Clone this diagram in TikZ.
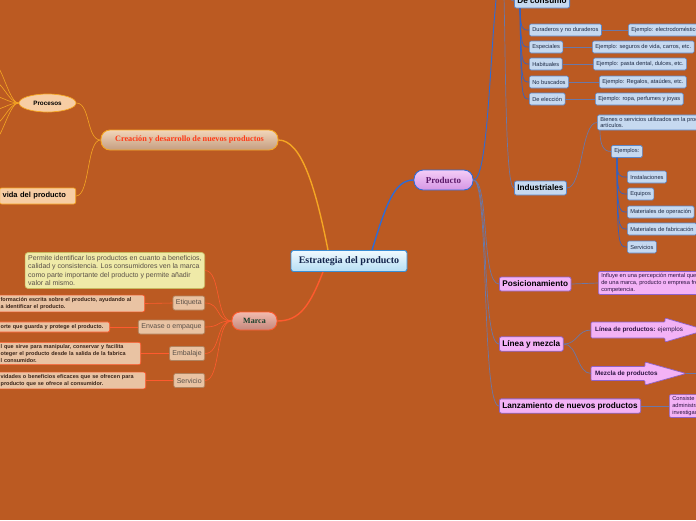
\documentclass[tikz,border=0pt]{standalone}
\usepackage{fontspec}
\setmainfont{Liberation Serif}
\setsansfont{Liberation Sans}
\usetikzlibrary{shapes.geometric}

\definecolor{fondo}{HTML}{BB5A22}
\definecolor{azulraiz}{HTML}{3A8ED4}
\definecolor{celesteA}{HTML}{F0FAFF}
\definecolor{celesteB}{HTML}{B6DEF4}
\definecolor{tinta}{HTML}{13254C}
\definecolor{azulprod}{HTML}{2E6BD6}
\definecolor{lilaA}{HTML}{F4CCF7}
\definecolor{lilaB}{HTML}{D596E4}
\definecolor{morado}{HTML}{5B1869}
\definecolor{naranja}{HTML}{F5A623}
\definecolor{beigeA}{HTML}{F2D6BA}
\definecolor{beigeB}{HTML}{C49D80}
\definecolor{rojo}{HTML}{FF3A17}
\definecolor{rojizo}{HTML}{FF5A2E}
\definecolor{salmonA}{HTML}{F2BBAE}
\definecolor{salmonB}{HTML}{C4877C}
\definecolor{verde}{HTML}{173F2A}
\definecolor{durazno}{HTML}{F7CDA4}
\definecolor{azulcaja}{HTML}{5B87C9}
\definecolor{celestecaja}{HTML}{C6D9F0}
\definecolor{tintacaja}{HTML}{1D2A45}
\definecolor{violeta}{HTML}{8F62C9}
\definecolor{rosado}{HTML}{F3B2F6}
\definecolor{tintarosa}{HTML}{2B1440}
\definecolor{notaborde}{HTML}{C9BA62}
\definecolor{notafondo}{HTML}{EFEAA8}
\definecolor{gristexto}{HTML}{5A5048}
\definecolor{hojaborde}{HTML}{B0835F}
\definecolor{hojafondo}{HTML}{E9C3A3}
\definecolor{cafeosc}{HTML}{3A2418}
\definecolor{lineagris}{HTML}{6A78A8}
\definecolor{azullinea}{HTML}{2F62C8}

\begin{document}
\begin{tikzpicture}[x=1pt,y=-1pt,
  raiz/.style={draw=azulraiz, line width=0.9pt, rounded corners=2.5pt, top color=celesteA, bottom color=celesteB, text=tinta, font=\bfseries\fontsize{10}{12}\selectfont, minimum width=116pt, minimum height=21pt},
  prod/.style={draw=azulprod, line width=0.9pt, rounded corners=9pt, top color=lilaA, bottom color=lilaB, text=morado, font=\bfseries\fontsize{9}{10}\selectfont, minimum width=59pt, minimum height=20pt},
  crea/.style={draw=naranja, line width=0.9pt, rounded corners=9pt, top color=beigeA, bottom color=beigeB, text=rojo, font=\bfseries\fontsize{8.2}{9}\selectfont, minimum width=177pt, minimum height=20pt},
  marca/.style={draw=rojizo, line width=0.9pt, rounded corners=8pt, top color=salmonA, bottom color=salmonB, text=verde, font=\bfseries\fontsize{8}{10}\selectfont, minimum width=45pt, minimum height=18pt},
  proc/.style={ellipse, draw=naranja, line width=0.7pt, fill=durazno, font=\sffamily\bfseries\fontsize{6.3}{7}\selectfont, minimum width=57pt, minimum height=18pt, inner sep=0pt},
  vida/.style={draw=naranja, line width=0.7pt, rounded corners=2pt, fill=durazno, font=\sffamily\bfseries\fontsize{7.5}{8}\selectfont, minimum height=16pt, inner xsep=3pt, align=left, anchor=east},
  catg/.style={draw=azulcaja, line width=0.8pt, rounded corners=2pt, fill=celestecaja, font=\sffamily\bfseries\fontsize{8.2}{9}\selectfont, minimum height=14pt, inner xsep=3pt, anchor=west},
  cat/.style={draw=azulcaja, line width=0.6pt, rounded corners=1.5pt, fill=celestecaja, text=tintacaja, font=\sffamily\fontsize{5.7}{6.8}\selectfont, minimum height=12pt, inner xsep=3pt, inner ysep=2pt, anchor=west, align=left},
  rosag/.style={draw=violeta, line width=0.8pt, rounded corners=2pt, fill=rosado, font=\sffamily\bfseries\fontsize{8.2}{9}\selectfont, minimum height=14pt, inner xsep=3pt, anchor=west},
  rosa/.style={draw=violeta, line width=0.6pt, rounded corners=2pt, fill=rosado, text=tintarosa, font=\sffamily\fontsize{5.7}{6.8}\selectfont, inner xsep=3pt, inner ysep=2pt, anchor=west, align=left},
  flecha/.style={draw=violeta, line width=0.7pt, fill=rosado, rounded corners=1pt},
  nota/.style={draw=notaborde, line width=0.7pt, rounded corners=3pt, fill=notafondo, text=gristexto, font=\sffamily\fontsize{7}{8.3}\selectfont, align=left, inner sep=3pt, anchor=east},
  hoja/.style={draw=hojaborde, line width=0.7pt, rounded corners=2pt, fill=hojafondo, text=gristexto, font=\sffamily\fontsize{7}{8}\selectfont, minimum height=14pt, inner xsep=3pt, anchor=east},
  desc/.style={draw=rojizo, line width=0.7pt, rounded corners=2pt, fill=hojafondo, text=cafeosc, font=\sffamily\bfseries\fontsize{5.5}{6.6}\selectfont, align=left, inner xsep=3pt, inner ysep=2.5pt, anchor=east},
  lnnaranja/.style={draw=naranja, line width=0.6pt},
  lnrojo/.style={draw=rojizo, line width=0.6pt},
  lnazul/.style={draw=azullinea, line width=0.7pt},
  lngris/.style={draw=lineagris, line width=0.7pt}]

\useasboundingbox (0,0) rectangle (696,520);
\clip (0,0) rectangle (696,520);
\fill[fondo] (0,0) rectangle (696,520);

\node[raiz] (raiz) at (349,261) {Estrategia del producto};
\node[prod] (prod) at (443.5,180) {Producto};
\node[crea] (crea) at (189.5,140) {Creación y desarrollo de nuevos productos};
\node[marca] (marca) at (254.5,321) {Marca};

\node[proc] (proc) at (47.5,103) {Procesos};
\node[vida, text width=70pt] (vida) at (76,196) {vida del producto};

\node[nota] (nota) at (205,270.5) {Permite identificar los productos en cuanto a beneficios,\\calidad y consistencia. Los consumidores ven la marca\\como parte importante del producto y permite añadir\\valor al mismo.};
\node[hoja] (etiq) at (205,303) {Etiqueta};
\node[hoja] (envase) at (205,327) {Envase o empaque};
\node[hoja] (embal) at (205,353.5) {Embalaje};
\node[hoja] (serv) at (205,380.5) {Servicio};

\node[desc, text width=141pt] (etiqd) at (145,303.5) {formación escrita sobre el producto, ayudando al\\a identificar el producto.};
\node[desc, text width=106pt] (envased) at (110,327) {orte que guarda y protege el producto.};
\node[desc, text width=137pt] (embald) at (141,353.5) {l que sirve para manipular, conservar y facilita\\oteger el producto desde la salida de la fabrica\\l consumidor.};
\node[desc, text width=142pt] (servd) at (146,380.5) {vidades o beneficios eficaces que se ofrecen para\\producto que se ofrece al consumidor.};

\node[catg] (cons) at (514,1) {De consumo};
\node[cat] (dur) at (529,30) {Duraderos y no duraderos};
\node[cat] (esp) at (529,47) {Especiales};
\node[cat] (hab) at (529,64) {Habituales};
\node[cat] (nob) at (529,82) {No buscados};
\node[cat] (ele) at (529,99) {De elección};
\node[cat] (durx) at (628,30) {Ejemplo: electrodomésticos};
\node[cat] (espx) at (592,47) {Ejemplo: seguros de vida, carros, etc.};
\node[cat] (habx) at (593,64) {Ejemplo: pasta dental, dulces, etc.};
\node[cat] (nobx) at (599,82) {Ejemplo: Regalos, ataúdes, etc.};
\node[cat] (elex) at (595,99) {Ejemplo: ropa, perfumes y joyas};

\node[catg] (ind) at (514,188) {Industriales};
\node[cat] (bien) at (597,122.5) {Bienes o servicios utilizados en la producción de otros\\artículos.};
\node[cat] (ejm) at (611,151.5) {Ejemplos:};
\node[cat] (inst) at (627,177) {Instalaciones};
\node[cat] (equi) at (627,194) {Equipos};
\node[cat] (mope) at (627,212) {Materiales de operación};
\node[cat] (mfab) at (627,229) {Materiales de fabricación};
\node[cat] (servi) at (627,247) {Servicios};

\node[rosag] (posi) at (499,284) {Posicionamiento};
\node[rosa] (posix) at (598,283) {Influye en una percepción mental que se tiene\\de una marca, producto o empresa frente a la\\competencia.};
\node[rosag] (lym) at (499,344) {Línea y mezcla};
\node[rosag] (lanz) at (499,406) {Lanzamiento de nuevos productos};
\node[rosa] (lanzx) at (669,406) {Consiste en el proceso de\\administración de la\\investigación y desarrollo};

\draw[flecha] (591,322) -- (665,322) -- (665,318) -- (706,330) -- (665,342) -- (665,338) -- (591,338) -- cycle;
\draw[flecha] (591,366.5) -- (645,366.5) -- (645,362) -- (686,373.5) -- (645,385) -- (645,380.5) -- (591,380.5) -- cycle;
\node[anchor=west, font=\sffamily\fontsize{6.3}{7}\selectfont, text=tintarosa, inner xsep=4pt] (lin) at (591,330) {\textbf{Línea de productos:} ejemplos};
\node[anchor=west, font=\sffamily\bfseries\fontsize{6.3}{7}\selectfont, text=tintarosa, inner xsep=4pt] (mez) at (591,373.5) {Mezcla de productos};

\coordinate (meztip) at (686,373.5);
\coordinate (mezfin) at (712,373.5);
\coordinate (clasif) at (500,-30);

\draw[naranja, line width=1.4pt] ([xshift=-21pt]raiz.north) .. controls (316,190) and (302,140) .. (crea.east);
\draw[azulprod, line width=1.4pt] ([xshift=23pt]raiz.north) .. controls (386,205) and (394,180) .. (prod.west);
\draw[rojizo, line width=1.4pt] ([xshift=-26pt]raiz.south) .. controls (310,305) and (300,321) .. (marca.east);

\draw[lnnaranja] (crea.west) .. controls +(-14,0) and +(14,0) .. (proc.east);
\draw[lnnaranja] (crea.west) .. controls +(-14,0) and +(14,0) .. (vida.east);
\foreach \y [count=\i] in {62,80,96,110,126,142} {
  \coordinate (pc\i) at (-8,\y);
  \draw[lnnaranja] (proc.west) .. controls +(-10,0) and +(10,0) .. (pc\i);
}

\foreach \n in {nota,etiq,envase,embal,serv}
  \draw[lnrojo] (marca.west) .. controls +(-16,0) and +(16,0) .. (\n.east);
\draw[lnrojo] (etiq.west) -- (etiqd.east);
\draw[lnrojo] (envase.west) -- (envased.east);
\draw[lnrojo] (embal.west) -- (embald.east);
\draw[lnrojo] (serv.west) -- (servd.east);

\draw[azulprod, line width=0.9pt] (prod.east) .. controls (490,180) and (490,20) .. (clasif);
\draw[lngris] ([xshift=3pt]clasif) .. controls (506,20) and (504,188) .. (ind.west);
\draw[lngris] ([xshift=6pt]clasif) .. controls (510,-10) and (508,1) .. (cons.west);
\foreach \n/\y in {dur/30,esp/47,hab/64,nob/82,ele/99}
  \draw[lnazul] ([xshift=6pt]cons.south west) .. controls (521,\y) and (522,\y) .. (\n.west);
\foreach \n in {dur,esp,hab,nob,ele}
  \draw[lngris] (\n.east) -- (\n x.west);

\draw[lngris] (ind.east) .. controls +(16,0) and +(-16,0) .. (bien.west);
\draw[lngris] ([xshift=3pt]bien.south west) .. controls +(0,14) and +(-8,0) .. (ejm.west);
\foreach \n/\y in {inst/177,equi/194,mope/212,mfab/229,servi/247}
  \draw[lnazul] ([xshift=6pt]ejm.south west) .. controls (617,\y) and (619,\y) .. (\n.west);

\foreach \n in {posi,lym,lanz}
  \draw[lngris] (prod.east) .. controls +(16,0) and +(-18,0) .. (\n.west);
\draw[lngris] (posi.east) -- (posix.west);
\draw[lngris] (lanz.east) -- (lanzx.west);
\draw[lngris] (lym.east) .. controls +(14,0) and +(-14,0) .. (lin.west);
\draw[lngris] (lym.east) .. controls +(14,0) and +(-14,0) .. (mez.west);
\draw[lngris] (meztip) -- (mezfin);
\end{tikzpicture}
\end{document}
